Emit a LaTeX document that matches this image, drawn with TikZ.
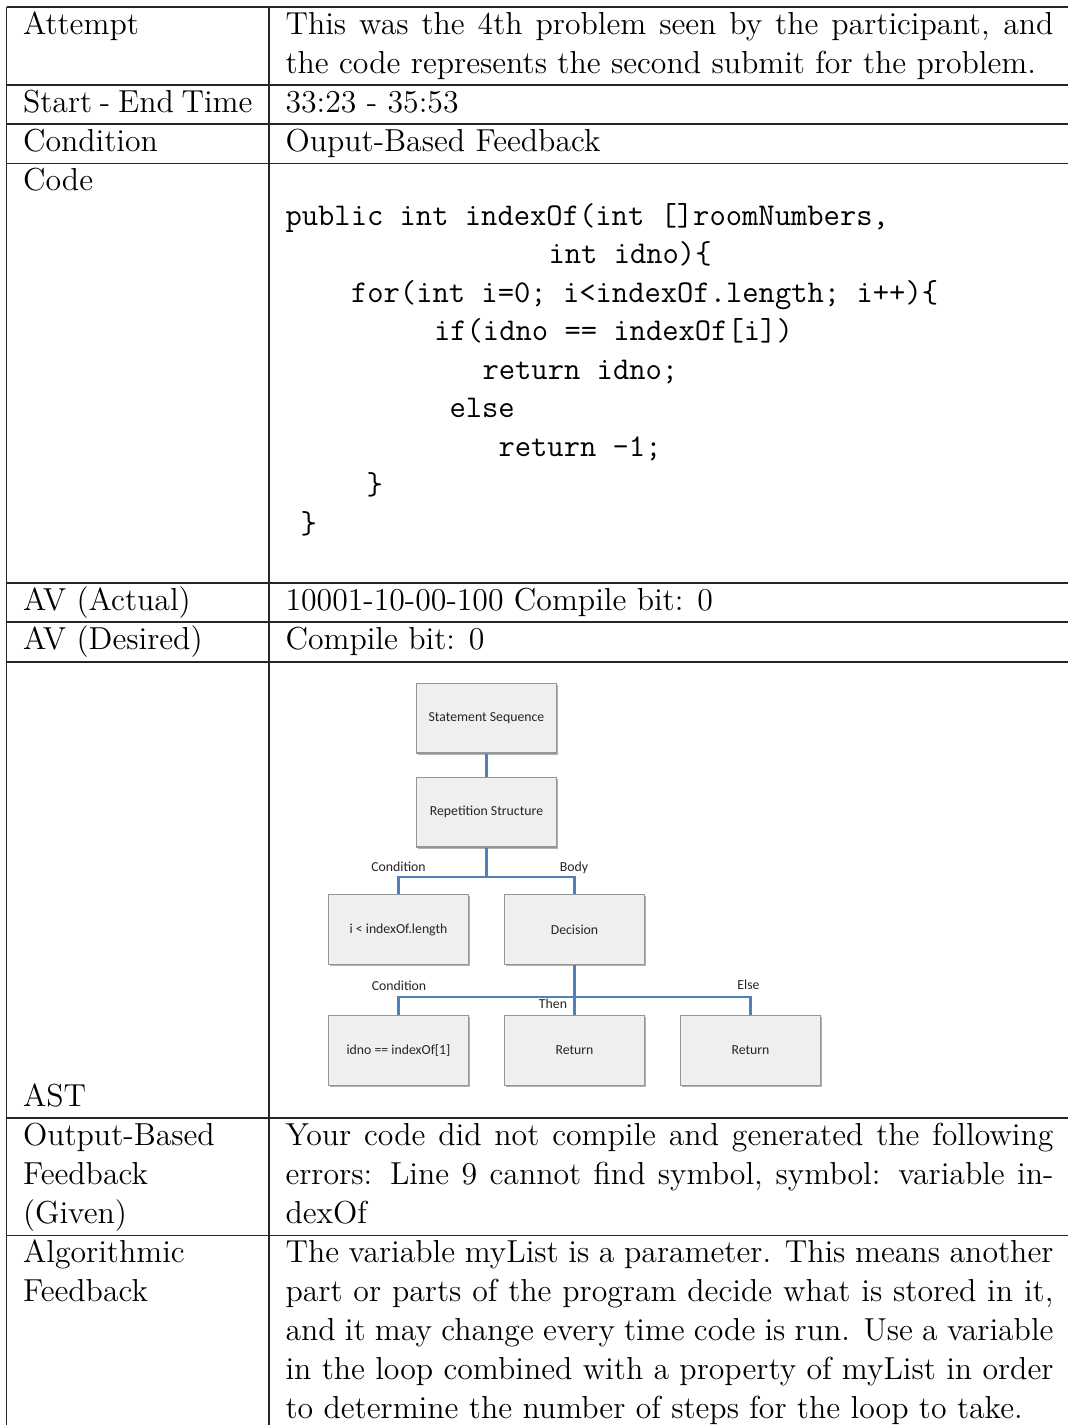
\documentclass[tikz,border=0pt]{standalone}
\usepackage{fontspec}
\usetikzlibrary{shadows}
\newfontfamily\diagfont{Carlito}
\definecolor{linkblue}{RGB}{79,129,189}
\definecolor{boxfill}{RGB}{239,239,239}
\definecolor{boxline}{RGB}{150,150,150}
\newlength{\colw}\setlength{\colw}{289.8pt}
% a fully justified line of the right-hand column
\newcommand{\full}[1]{\makebox[\colw][s]{#1}}

\begin{document}
\begin{tikzpicture}[x=0.37736pt, y=-0.37736pt,
  cell/.style={anchor=base west, inner sep=0pt, font=\fontsize{12}{14.5}\selectfont},
  code/.style={anchor=base west, inner sep=0pt, font=\fontsize{11.95}{14.5}\selectfont\ttfamily},
  grid/.style={line width=0.4pt, draw=black!85},
  astbox/.style={draw=boxline, fill=boxfill, line width=0.4pt,
    minimum width=52.8pt, minimum height=26.4pt, inner sep=0pt,
    font=\diagfont\fontsize{5.2}{6.3}\selectfont, text=black!85,
    drop shadow={shadow xshift=0.7pt, shadow yshift=-0.7pt, opacity=0.3, fill=black}},
  astlabel/.style={inner sep=0pt, font=\diagfont\fontsize{5.2}{6.3}\selectfont, text=black!85},
  link/.style={draw=linkblue, line width=0.8pt}]

\fill[white] (0,0) rectangle (1068,1425);
\useasboundingbox (0,0) rectangle (1068,1425);

% table rules
\foreach \yy in {7,85,124,163.5,583,622,662,1118,1235.5}
  \draw[grid] (6.5,\yy) -- (1068,\yy);
\draw[grid] (6.5,7) -- (6.5,1425);
\draw[grid] (269,7) -- (269,1425);

% left column
\node[cell] (kAttempt) at (22.5,34.3) {Attempt};
\node[cell] (kTime) at (22.5,112.3) {\makebox[86.6pt][s]{Start - End Time}};
\node[cell] (kCond) at (22.5,151.3) {Condition};
\node[cell] (kCode) at (22.5,190.8) {Code};
\node[cell] (kAVa) at (22.5,610.3) {AV (Actual)};
\node[cell] (kAVd) at (22.5,649.3) {AV (Desired)};
\node[cell] (kAST) at (22.5,1106.3) {AST};
\node[cell] (kOut1) at (22.5,1145.3) {Output-Based};
\node[cell] (kOut2) at (22.5,1184.3) {Feedback};
\node[cell] (kOut3) at (22.5,1223.3) {(Given)};
\node[cell] (kAlg1) at (22.5,1262.8) {Algorithmic};
\node[cell] (kAlg2) at (22.5,1301.8) {Feedback};

% right column
\node[cell] (vAttempt1) at (285,34.3) {\full{This was the 4th problem seen by the participant, and}};
\node[cell] (vAttempt2) at (285,73.3) {the code represents the second submit for the problem.};
\node[cell] (vTime) at (285,112.3) {33:23 - 35:53};
\node[cell] (vCond) at (285,151.3) {Ouput-Based Feedback};
\node[cell] (vAVa) at (285,610.3) {10001-10-00-100 Compile bit: 0};
\node[cell] (vAVd) at (285,649.3) {Compile bit: 0};
\node[cell] (vOut1) at (285,1145.3) {\full{Your code did not compile and generated the following}};
\node[cell] (vOut2) at (285,1184.3) {\full{errors: Line 9 cannot find symbol, symbol: variable in-}};
\node[cell] (vOut3) at (285,1223.3) {dexOf};
\node[cell] (vAlg1) at (285,1262.8) {\full{The variable myList is a parameter. This means another}};
\node[cell] (vAlg2) at (285,1301.8) {\full{part or parts of the program decide what is stored in it,}};
\node[cell] (vAlg3) at (285,1340.8) {\full{and it may change every time code is run. Use a variable}};
\node[cell] (vAlg4) at (285,1379.8) {\full{in the loop combined with a property of myList in order}};
\node[cell] (vAlg5) at (285,1418.8) {to determine the number of steps for the loop to take.};

% source listing
\node[code] (src1) at (285,225) {public int indexOf(int []roomNumbers,};
\node[code] (src2) at (548,263.5) {int idno)\{};
\node[code] (src3) at (350.5,302) {for(int i=0; i<indexOf.length; i++)\{};
\node[code] (src4) at (433.5,340.5) {if(idno == indexOf[i])};
\node[code] (src5) at (482,379) {return idno;};
\node[code] (src6) at (449,417.5) {else};
\node[code] (src7) at (498,456) {return -1;};
\node[code] (src8) at (366,494.5) {\}};
\node[code] (src9) at (300,533) {\}};

% abstract syntax tree
\node[astbox] (seq) at (486.5,718) {Statement Sequence};
\node[astbox] (rep) at (486.5,812) {Repetition Structure};
\node[astbox] (lcond) at (398.5,929.5) {i < indexOf.length};
\node[astbox] (dec) at (574.5,929.5) {Decision};
\node[astbox] (cmp) at (398.5,1050.5) {idno == indexOf[1]};
\node[astbox] (retA) at (574.5,1050.5) {Return};
\node[astbox] (retB) at (750.5,1050.5) {Return};

\coordinate (jRep) at (486.5,877);
\coordinate (jDec) at (574.5,997);

\draw[link] (seq) -- (rep);
\draw[link] (rep) -- (jRep);
\draw[link] (jRep) -| (lcond.north);
\draw[link] (jRep) -| (dec.north);
\draw[link] (dec) -- (jDec) -- (retA);
\draw[link] (jDec) -| (cmp.north);
\draw[link] (jDec) -| (retB.north);

\node[astlabel] (tCond1) at (398.5,866.5) {Condition};
\node[astlabel] (tBody) at (574,868) {Body};
\node[astlabel] (tCond2) at (399,986) {Condition};
\node[astlabel] (tThen) at (553,1004) {Then};
\node[astlabel] (tElse) at (748.5,984.5) {Else};
\end{tikzpicture}
\end{document}
